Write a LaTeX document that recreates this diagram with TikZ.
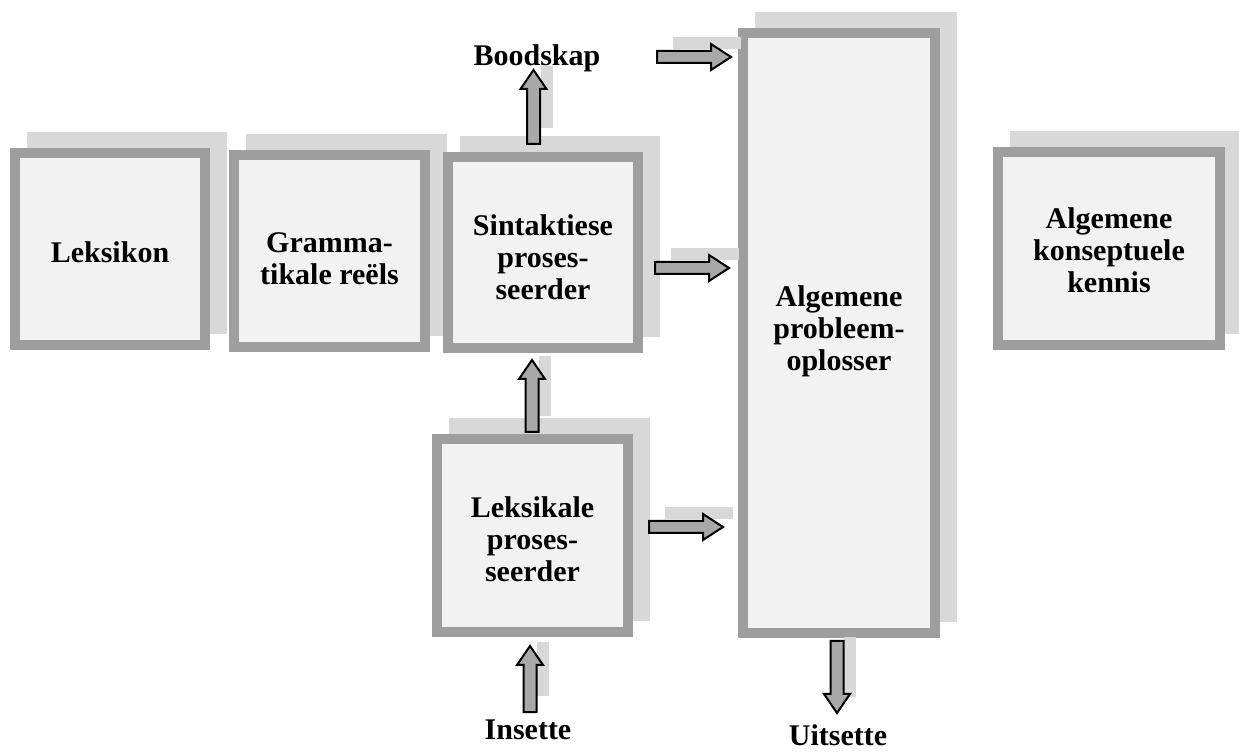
\documentclass[tikz,border=0pt]{standalone}
\usepackage{fontspec}
\setmainfont{Liberation Serif}
\definecolor{bordc}{HTML}{9E9E9E}
\definecolor{innerc}{HTML}{F2F2F2}
\definecolor{shadc}{HTML}{D8D8D8}
\definecolor{arrc}{HTML}{A8A8A8}
\tikzset{
  box/.style={draw=bordc, line width=5pt, fill=innerc, inner sep=0pt},
  boxtext/.style={inner sep=0pt, align=center, font=\fontsize{15pt}{16pt}\selectfont\bfseries},
  shad/.style={fill=shadc},
  blockarr/.style={draw=black, line width=1pt, fill=arrc, line join=miter},
  lbl/.style={inner sep=0pt, font=\fontsize{15pt}{16pt}\selectfont\bfseries},
}
% box: name, cx, cy, outer w, outer h (pixels), text offset, text
\newcommand\shbox[7]{%
  \fill[shad] ({#2-#4/2+17},{#3-#5/2-16}) rectangle ({#2+#4/2+17},{#3+#5/2-16});
  \node[box, minimum width={(#4-10)*0.5pt}, minimum height={(#5-10)*0.5pt}] (#1) at (#2,#3) {};
  \node[boxtext] (#1-t) at ([yshift={-(#6)*0.5pt}]#1.center) {#7};}
% horizontal block arrow at y #1 from x #2 to x #3
\newcommand\harr[3]{%
  \fill[shad] ({#2+16},{#1-6-14}) rectangle ({#3+10},{#1+6-14});
  \draw[blockarr] (#2,{#1-6}) -- ({#3-20*sign(#3-#2)},{#1-6}) -- ({#3-20*sign(#3-#2)},{#1-13})
    -- (#3,#1) -- ({#3-20*sign(#3-#2)},{#1+13}) -- ({#3-20*sign(#3-#2)},{#1+6}) -- (#2,{#1+6}) -- cycle;}
% vertical block arrow at x #1 from y #2 to y #3
\newcommand\varr[3]{%
  \fill[shad] ({#1+7},{min(#2,#3)-4}) rectangle ({#1+19},{max(#2,#3)-16});
  \draw[blockarr] ({#1-6.5},#2) -- ({#1-6.5},{#3-19*sign(#3-#2)}) -- ({#1-13},{#3-19*sign(#3-#2)})
    -- (#1,#3) -- ({#1+13},{#3-19*sign(#3-#2)}) -- ({#1+6.5},{#3-19*sign(#3-#2)}) -- ({#1+6.5},#2) -- cycle;}
\begin{document}
\begin{tikzpicture}[x=0.5pt,y=-0.5pt]
\useasboundingbox[fill=white] (0,0) rectangle (1239,754);
\shbox{prob}{839}{333}{202}{610}{-1.5}{Algemene\\probleem-\\oplosser}
\shbox{lek}{110}{249}{200}{202}{3}{Leksikon}
\shbox{gram}{329.5}{251}{201}{202}{8}{Gramma-\\tikale reëls}
\shbox{leks}{532.5}{535.5}{201}{203}{4}{Leksikale\\proses-\\seerder}
\shbox{sint}{543}{252.5}{200}{201}{5}{Sintaktiese\\proses-\\seerder}
\shbox{kon}{1109}{248.5}{232}{203}{1.5}{Algemene\\konseptuele\\kennis}
% arrows
\harr{57}{657}{731}
\harr{268}{655}{729}
\harr{527}{649}{723}
\varr{533.5}{144}{70}
\varr{532}{432}{360}
\varr{530}{712}{646}
\varr{837}{641}{713}
% labels
\node[lbl] (bood) at (537,58) {Boodskap};
\node[lbl] (ins) at (528,730) {Insette};
\node[lbl] (uit) at (838,735) {Uitsette};
\end{tikzpicture}
\end{document}
